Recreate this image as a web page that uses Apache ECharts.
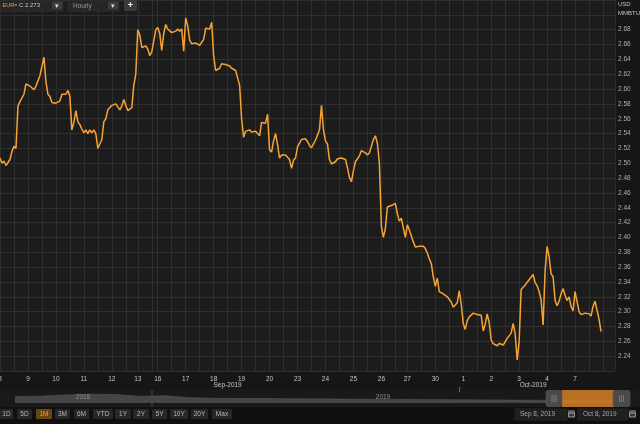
<!DOCTYPE html>
<html><head><meta charset="utf-8">
<script src="https://cdn.jsdelivr.net/npm/echarts/dist/echarts.min.js"></script>
<style>html,body{margin:0;padding:0;background:#121212;}#c{width:640px;height:424px;}</style>
</head><body><div id="c"></div>
<script>
// ---- data (hourly-ish closes, USD/MMBTU) ----
const dayLabels = ['8','9','10','11','12','13','16','17','18','19','20','23','24','25','26','27','30','1','2','3','4','7'];
const dayMonths = ['Sep','Sep','Sep','Sep','Sep','Sep','Sep','Sep','Sep','Sep','Sep','Sep','Sep','Sep','Sep','Sep','Sep','Oct','Oct','Oct','Oct','Oct'];
const sep08 = [2.507,2.500,2.503,2.497,2.495,2.505,2.516,2.523,2.520,2.577,2.583,2.582,2.593,2.607];
const sep09 = [2.605,2.604,2.602,2.599,2.604,2.611,2.618,2.620,2.643,2.610,2.593,2.590,2.582,2.581];
const sep10 = [2.581,2.583,2.584,2.593,2.592,2.593,2.598,2.590,2.545,2.555,2.571,2.556,2.552,2.546];
const sep11 = [2.541,2.545,2.540,2.545,2.541,2.545,2.540,2.520,2.526,2.532,2.556,2.560,2.572,2.573];
const sep12 = [2.578,2.579,2.580,2.576,2.572,2.577,2.586,2.578,2.571,2.571,2.575,2.605,2.620];
const sep13 = [2.680,2.673,2.656,2.656,2.658,2.654,2.645,2.650,2.665,2.680];
const sep16 = [2.683,2.675,2.652,2.675,2.687,2.681,2.679,2.676,2.677,2.678,2.681,2.678,2.681,2.651];
const sep17 = [2.696,2.685,2.666,2.661,2.663,2.662,2.661,2.659,2.659,2.667,2.682,2.684,2.681,2.690];
const sep18 = [2.645,2.625,2.623,2.628,2.634,2.633,2.633,2.632,2.631,2.628,2.626,2.625,2.625,2.605];
const sep19 = [2.560,2.535,2.543,2.544,2.545,2.542,2.542,2.543,2.541,2.537,2.555,2.553,2.554,2.566];
const sep20 = [2.518,2.515,2.530,2.540,2.525,2.507,2.511,2.511,2.511,2.509,2.505,2.493,2.504,2.507];
const sep23 = [2.522,2.527,2.532,2.533,2.533,2.529,2.524,2.521,2.526,2.531,2.531,2.545,2.578,2.545];
const sep24 = [2.530,2.526,2.505,2.499,2.501,2.502,2.506,2.508,2.507,2.508,2.505,2.494,2.481,2.475];
const sep25 = [2.490,2.502,2.500,2.510,2.517,2.518,2.514,2.511,2.514,2.523,2.532,2.537,2.527,2.500];
const sep26 = [2.415,2.400,2.412,2.441,2.442,2.443,2.443,2.446,2.432,2.422,2.426,2.413,2.400];
const sep27 = [2.417,2.410,2.402,2.394,2.387,2.386,2.388,2.389,2.388,2.385,2.379,2.371,2.365,2.347];
const sep30 = [2.334,2.345,2.327,2.327,2.324,2.322,2.320,2.318,2.313,2.306,2.305,2.312,2.328,2.310];
const oct01 = [2.284,2.276,2.288,2.293,2.295,2.298,2.299,2.296,2.297,2.295,2.274,2.283,2.297,2.285];
const oct02 = [2.262,2.257,2.256,2.254,2.257,2.256,2.255,2.253,2.264,2.266,2.271,2.284,2.270,2.235];
const oct03 = [2.260,2.330,2.330,2.336,2.335,2.343,2.345,2.350,2.339,2.335,2.327,2.316,2.282,2.355];
const oct04 = [2.388,2.374,2.351,2.347,2.315,2.308,2.314,2.324,2.331,2.322,2.315,2.320,2.307,2.301];
const oct07 = [2.327,2.325,2.300,2.296,2.296,2.298,2.298,2.297,2.294,2.307,2.314,2.313,2.290,2.273];
const yTickMin = 2.24, yTickMax = 2.68;
const monthLabels = [['Sep','18','Sep-2019'],['Oct','3','Oct-2019']];
// navigator history (approx. front-month price, Oct 2018 - Oct 2019, semi-monthly)
const navValues = [3.6,3.8,4.2,4.5,4.4,3.7,3.9,3.2,3.0,2.9,2.9,2.85,2.8,2.75,2.7,2.6,2.55,2.5,2.45,2.4,2.35,2.3,2.35,2.3,2.27];
const navYears = ['2018','2019'];
const rangeButtons = ['1D','5D','1M','3M','6M','YTD','1Y','2Y','5Y','10Y','20Y','Max'];
const dateFrom = 'Sep 8, 2019', dateTo = 'Oct 8, 2019';

// ---- build series ----
const days = [sep08,sep09,sep10,sep11,sep12,sep13,sep16,sep17,sep18,sep19,sep20,sep23,sep24,sep25,sep26,sep27,sep30,oct01,oct02,oct03,oct04,oct07];
const categories = [], values = [], labelAt = {}, gridAt = new Set(), monthAt = {}, startOf = {};
days.forEach((arr, d) => {
  const s = categories.length;
  labelAt[s] = dayLabels[d];
  startOf[dayMonths[d] + dayLabels[d]] = s;
  gridAt.add(s); gridAt.add(s + 7);
  arr.forEach((v, k) => { categories.push(dayMonths[d] + ' ' + dayLabels[d] + ' #' + k); values.push(v); });
});
gridAt.add(categories.length);
for (let k = 0; k < 7; k++) { categories.push('Oct 8 #' + k); values.push(null); }
monthLabels.forEach(m => { monthAt[startOf[m[0] + m[1]] + 7] = m[2]; });
const monthTickIdx = startOf['Oct1'] - 2;
const lastValue = oct07[oct07.length - 1];
const navCats = navValues.map((v, i) => 'p' + i);

const FONT = '"Liberation Sans", Arial, sans-serif';
const txt = (x, y, text, fill, size, align, weight) => ({
  type: 'text', x, y, z: 120,
  style: { text, fill, font: (weight || 'normal') + ' ' + size + 'px ' + FONT,
    align: align || 'left', verticalAlign: 'middle', textAlign: align || 'left', textVerticalAlign: 'middle' }
});
const rect = (x, y, w, h, fill, z, stroke, r) => ({
  type: 'rect', z: z, shape: { x, y, width: w, height: h, r: r || 0 },
  style: { fill, stroke: stroke || null, lineWidth: stroke ? 0.6 : 0 }
});

const g = [];
// top toolbar
g.push(rect(0, 0, 63, 11, '#262626', 110, '#3a3a3a', 1));
g.push(txt(2.5, 5.8, 'EUR=', '#f0a030', 5.5, 'left', 'normal'));
g.push(txt(19, 5.8, 'C 2.273', '#c8c8c8', 6));
g.push(rect(52, 1.5, 10, 8, '#3c3c3c', 112, null, 1));
g.push(txt(57, 5.8, '▾', '#e0e0e0', 7, 'center'));
g.push(rect(68, 0, 51, 11, '#262626', 110, '#3a3a3a', 1));
g.push(txt(73, 5.8, 'Hourly', '#9a9a9a', 6.5));
g.push(rect(108, 1.5, 10, 8, '#3c3c3c', 112, null, 1));
g.push(txt(113, 5.8, '▾', '#e0e0e0', 7, 'center'));
g.push(rect(124, 0, 13, 11, '#3a3a3a', 110, null, 1));
g.push(txt(130.5, 5.5, '+', '#f0f0f0', 9, 'center', 'bold'));
// unit label
g.push(txt(618, 4.5, 'USD', '#c0c0c0', 6));
g.push(txt(618, 13, 'MMBTU', '#c0c0c0', 6));
// navigator band
g.push(rect(0, 390, 640, 17, '#191919', 0));
g.push(rect(0, 407, 640, 17, '#101010', 0));
g.push({ type: 'line', z: 5, shape: { x1: 152, y1: 390, x2: 152, y2: 407 }, style: { stroke: '#4a4a4a', lineWidth: 1 } });
g.push(txt(83, 397.5, navYears[0], '#8c8c8c', 6.5, 'center'));
g.push(txt(383, 397.5, navYears[1], '#8c8c8c', 6.5, 'center'));
// selection window
g.push(rect(562, 390, 52, 17, 'rgba(214,128,36,0.85)', 20));
[[546, 562], [613, 630]].forEach(h => {
  g.push(rect(h[0], 390.5, h[1] - h[0], 16, '#4a4a4a', 21, '#5a5a5a', 2));
  const cx = (h[0] + h[1]) / 2;
  [-2, 0, 2].forEach(o => g.push({ type: 'line', z: 22, shape: { x1: cx + o, y1: 395, x2: cx + o, y2: 402 }, style: { stroke: '#8a8a8a', lineWidth: 0.7 } }));
});
// range buttons
const btnX = [[0,13],[17,32],[36,52],[55,70],[74,89],[93,113],[115,131],[133,149],[152,167],[170,188],[191,208],[212,232]];
rangeButtons.forEach((b, i) => {
  const sel = b === '1M';
  g.push(rect(btnX[i][0], 409, btnX[i][1] - btnX[i][0], 10, sel ? '#6a4512' : '#272727', 30, null, 1));
  g.push(txt((btnX[i][0] + btnX[i][1]) / 2, 414.3, b, sel ? '#f0a030' : '#b8b8b8', 6.5, 'center'));
});
// date inputs
[[515, 567, dateFrom], [578, 628, dateTo]].forEach(d => {
  g.push(rect(d[0], 409, d[1] - d[0], 11, '#1f1f1f', 30, '#2c2c2c'));
  g.push(txt(d[0] + 5, 414.5, d[2], '#a8a8a8', 6.5));
  g.push(rect(d[1] + 1, 410.5, 7, 7, '#9a9a9a', 31, null, 1));
  g.push(rect(d[1] + 1, 410.5, 7, 2, '#5a5a5a', 32));
  g.push(rect(d[1] + 2, 413.5, 5, 3, '#3a3a3a', 32));
});

const option = {
  animation: false,
  backgroundColor: '#161616',
  grid: [
    { left: 0, right: 25, top: 0, height: 371, show: true, backgroundColor: '#1c1c1c', borderWidth: 0, containLabel: false, outerBoundsMode: 'none' },
    { left: 15, right: 25, top: 392, height: 11, show: false, containLabel: false, outerBoundsMode: 'none' }
  ],
  xAxis: [
    { type: 'category', gridIndex: 0, data: categories, boundaryGap: false, position: 'bottom',
      axisLine: { show: false }, axisTick: { show: false },
      axisLabel: { interval: (i) => labelAt[i] !== undefined, formatter: (v, i) => labelAt[i] || '',
        color: '#c4c4c4', fontSize: 6.5, fontFamily: FONT, margin: 5, hideOverlap: false },
      splitLine: { show: true, interval: (i) => gridAt.has(i), lineStyle: { color: '#2f2f2f', width: 1 } } },
    { type: 'category', gridIndex: 0, data: categories, boundaryGap: false, position: 'bottom', offset: 9,
      axisLine: { show: false }, axisTick: { show: false }, splitLine: { show: false },
      axisLabel: { interval: (i) => monthAt[i] !== undefined, formatter: (v, i) => monthAt[i] || '',
        color: '#c4c4c4', fontSize: 6.5, fontFamily: FONT, margin: 2, hideOverlap: false } },
    { type: 'category', gridIndex: 0, data: categories, boundaryGap: false, position: 'bottom', offset: 16,
      axisLine: { show: false }, axisLabel: { show: false }, splitLine: { show: false },
      axisTick: { show: true, interval: (i) => i === monthTickIdx, length: 5, lineStyle: { color: '#6a6a6a', width: 1 } } },
    { type: 'category', gridIndex: 1, data: navCats, boundaryGap: false, show: false }
  ],
  yAxis: [
    { type: 'value', gridIndex: 0, position: 'right', min: 2.22, max: 2.72, interval: 0.02,
      axisLine: { show: true, lineStyle: { color: '#2a2a2a' } }, axisTick: { show: false },
      axisLabel: { margin: 3, color: '#adadad', fontSize: 6.5, fontFamily: FONT,
        formatter: (v) => { const r = Math.round(v * 100) / 100; return (r >= yTickMin && r <= yTickMax) ? r.toFixed(2) : ''; } },
      splitLine: { show: true, lineStyle: { color: '#2f2f2f', width: 1 } } },
    { type: 'value', gridIndex: 1, min: 1.3, max: 5.3, show: false }
  ],
  series: [
    { type: 'line', xAxisIndex: 0, yAxisIndex: 0, data: values, showSymbol: false, connectNulls: false,
      lineStyle: { color: '#f7a334', width: 1.5 }, itemStyle: { color: '#f7a334' }, z: 5, silent: true,
      markLine: { silent: true, symbol: ['none', 'none'], lineStyle: { opacity: 0, width: 0 },
        data: [{ yAxis: lastValue }],
        label: { show: true, position: 'end', distance: 0, formatter: lastValue.toFixed(3),
          backgroundColor: '#f0a030', color: '#ffffff', fontSize: 6.5, fontFamily: FONT, padding: [2, 4, 1, 4] } } },
    { type: 'line', xAxisIndex: 3, yAxisIndex: 1, data: navValues, showSymbol: false, silent: true,
      lineStyle: { color: '#575757', width: 0.6 }, areaStyle: { color: '#454545', opacity: 1 }, z: 3 }
  ],
  graphic: g
};
const chart = echarts.init(document.getElementById('c'), null, { renderer: 'canvas' });
chart.setOption(option);
</script></body></html>
